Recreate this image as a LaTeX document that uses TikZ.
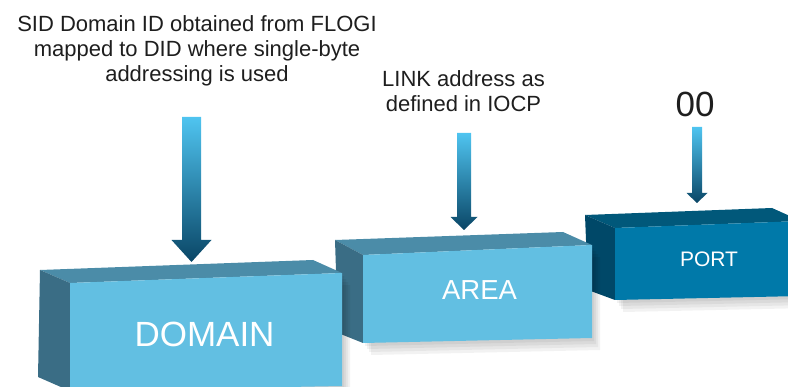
\documentclass[tikz,border=0pt]{standalone}
\usepackage{fontspec}
\setmainfont{Liberation Sans}

\definecolor{lightfront}{HTML}{62BFE2}
\definecolor{lighttop}{HTML}{4B8CA8}
\definecolor{lightside}{HTML}{3A6D85}
\definecolor{darkfront}{HTML}{0079A9}
\definecolor{darktop}{HTML}{01587A}
\definecolor{darkside}{HTML}{004868}
\definecolor{arrowtop}{HTML}{4FC4F0}
\definecolor{arrowbottom}{HTML}{0A4666}
\definecolor{notetext}{HTML}{1E1E1E}

\begin{document}
\begin{tikzpicture}[x=1pt,y=-1pt,
    boxshadow/.style={fill=black,opacity=0.05},
    arrowshade/.style={top color=arrowtop,bottom color=arrowbottom},
    note/.style={inner sep=0pt,align=center,text=notetext,
                 font=\fontsize{22}{25}\selectfont},
    boxlabel/.style={inner sep=0pt,anchor=base,text=white}]
                \useasboundingbox (0,0) rectangle (788,387);
                \clip (0,0) rectangle (788,387);

                % Drawing box PORT
                \fill[boxshadow,shift={(2,3)}] (615,228) -- (801,221) -- (801,296) -- (615,300) -- cycle;%
                \fill[boxshadow,shift={(4,6)}] (615,228) -- (801,221) -- (801,296) -- (615,300) -- cycle;%
                \fill[boxshadow,shift={(6,9)}] (615,228) -- (801,221) -- (801,296) -- (615,300) -- cycle;%
                \fill[boxshadow,shift={(8,12)}] (615,228) -- (801,221) -- (801,296) -- (615,300) -- cycle;%
                \fill[darktop] (585,215) -- (772,208) -- (801,221) -- (615,228) -- cycle;%
                \fill[darkside] (585,215) -- (615,228) -- (615,300) -- (588,290) -- cycle;%
                \fill[darkfront] (615,228) -- (801,221) -- (801,296) -- (615,300) -- cycle;%
                \node[boxlabel,font=\fontsize{21}{21}\selectfont] (portlabel) at (709,267) {PORT};%

                % Drawing box AREA
                \fill[boxshadow,shift={(2,3)}] (363,255) -- (592,245) -- (592,338) -- (363,343) -- cycle;%
                \fill[boxshadow,shift={(4,6)}] (363,255) -- (592,245) -- (592,338) -- (363,343) -- cycle;%
                \fill[boxshadow,shift={(6,9)}] (363,255) -- (592,245) -- (592,338) -- (363,343) -- cycle;%
                \fill[boxshadow,shift={(8,12)}] (363,255) -- (592,245) -- (592,338) -- (363,343) -- cycle;%
                \fill[lighttop] (335,240) -- (563,232) -- (592,245) -- (363,255) -- cycle;%
                \fill[lightside] (335,240) -- (363,255) -- (363,343) -- (338,333) -- cycle;%
                \fill[lightfront] (363,255) -- (592,245) -- (592,338) -- (363,343) -- cycle;%
                \node[boxlabel,font=\fontsize{27.5}{27.5}\selectfont] (arealabel) at (479.5,300) {AREA};%

                % Drawing box DOMAIN
                \fill[boxshadow,shift={(2,3)}] (70,283) -- (342,273) -- (342,386) -- (70,391) -- cycle;%
                \fill[boxshadow,shift={(4,6)}] (70,283) -- (342,273) -- (342,386) -- (70,391) -- cycle;%
                \fill[boxshadow,shift={(6,9)}] (70,283) -- (342,273) -- (342,386) -- (70,391) -- cycle;%
                \fill[boxshadow,shift={(8,12)}] (70,283) -- (342,273) -- (342,386) -- (70,391) -- cycle;%
                \fill[lighttop] (40,270) -- (313,260) -- (342,273) -- (70,283) -- cycle;%
                \fill[lightside] (40,270) -- (70,283) -- (70,391) -- (38,377) -- cycle;%
                \fill[lightfront] (70,283) -- (342,273) -- (342,386) -- (70,391) -- cycle;%
                \node[boxlabel,font=\fontsize{35}{35}\selectfont] (domainlabel) at (204.5,347) {DOMAIN};%

                % Drawing arrow to DOMAIN
                \shade[arrowshade] (182,117) -- (201,117) -- (201,240) -- (211.5,240) -- (191.5,262) -- (171.5,240) -- (182,240) -- cycle;%

                % Drawing arrow to AREA
                \shade[arrowshade] (457,133) -- (471,133) -- (471,217) -- (477.5,217) -- (464,230) -- (450.5,217) -- (457,217) -- cycle;%

                % Drawing arrow to PORT
                \shade[arrowshade] (692,127) -- (702,127) -- (702,193) -- (707.5,193) -- (697,203) -- (686.5,193) -- (692,193) -- cycle;%

                % Marking the notes above the arrows
                \node[note,anchor=north] (domainnote) at (197,15) {SID Domain ID obtained from FLOGI\\ mapped to DID where single-byte\\ addressing is used};%
                \node[note,anchor=north] (areanote) at (463.5,70) {LINK address as\\ defined in IOCP};%
                \node[note,anchor=base,font=\fontsize{35}{35}\selectfont] (portnote) at (695,117) {00};%
\end{tikzpicture}
\end{document}
